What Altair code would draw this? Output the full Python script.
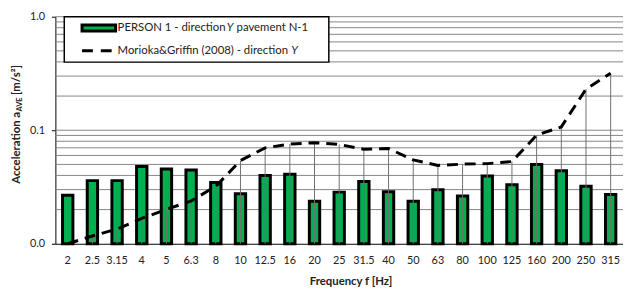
import altair as alt
import pandas as pd

freqs = ["2", "2.5", "3.15", "4", "5", "6.3", "8", "10", "12.5", "16", "20", "25",
         "31.5", "40", "50", "63", "80", "100", "125", "160", "200", "250", "315"]
person = [0.0267, 0.036, 0.036, 0.048, 0.0455, 0.0446, 0.0346, 0.0276, 0.040, 0.0409,
          0.0237, 0.0285, 0.0353, 0.0287, 0.0237, 0.0299, 0.0263, 0.0396, 0.0331,
          0.050, 0.044, 0.0321, 0.0272]
morioka = [0.0100, 0.0117, 0.0135, 0.0167, 0.0201, 0.0238, 0.0321, 0.054, 0.070, 0.0755,
           0.0776, 0.0750, 0.068, 0.069, 0.0548, 0.049, 0.0503, 0.0508, 0.053, 0.0905,
           0.107, 0.230, 0.318]
grid_values = [0.02, 0.03, 0.04, 0.05, 0.06, 0.07, 0.08, 0.09, 0.1,
               0.2, 0.3, 0.4, 0.5, 0.6, 0.7, 0.8, 0.9, 1.0]
y_label_values = [0.01, 0.1, 1.0]

legend_label_1 = ["PERSON 1 - direction", "Y", "pavement N-1"]
legend_label_2 = ["Morioka&Griffin (2008) - direction", "Y"]
y_title_parts = ["Acceleration a", "AVE", "[m/s\u00b2]"]
x_title = "Frequency f [Hz]"

FONT = "Lato"
GREEN = "#00B050"

df = pd.DataFrame({"f": freqs, "person": person, "morioka": morioka})
gdf = pd.DataFrame({"g": grid_values})

yscale = alt.Scale(type="log", domain=[0.01, 1.0], nice=False)
xscale = alt.Scale(type="band", paddingInner=0, paddingOuter=0)

y_axis = alt.Axis(values=y_label_values, format=".1f", grid=False, title=None,
                  tickSize=4, tickColor="#000", labelPadding=7, domainColor="#000",
                  labelFont=FONT, labelFontSize=11, labelColor="#222")
x_axis = alt.Axis(title=x_title, labelAngle=0, ticks=False, tickSize=0,
                  labelPadding=16.7, labelBaseline="middle", labelFont=FONT,
                  labelFontSize=11, labelColor="#222", domainColor="#000",
                  titleFont=FONT, titleFontSize=11.5, titleFontWeight="bold",
                  titleColor="#222", titleX=299, titleY=38, titleBaseline="middle",
                  titleAlign="center", titleAngle=0)

X = alt.X("f:N", sort=freqs, scale=xscale, axis=x_axis)

grid = alt.Chart(gdf).mark_rule(color="#858585", strokeWidth=1).encode(
    y=alt.Y("g:Q", scale=yscale, axis=y_axis)
)

bars = alt.Chart(df).mark_bar(width=10.5, color=GREEN, stroke="#000", strokeWidth=3).encode(
    x=X,
    y=alt.Y("person:Q", scale=yscale, axis=y_axis),
    y2=alt.datum(0.01),
)

drops = alt.Chart(df).mark_rule(color="#707070", strokeWidth=1).encode(
    x=X,
    y=alt.Y("morioka:Q", scale=yscale, axis=y_axis),
    y2=alt.datum(0.01),
)

line = alt.Chart(df).mark_line(color="#000", strokeWidth=3, strokeDash=[11, 7]).encode(
    x=X,
    y=alt.Y("morioka:Q", scale=yscale, axis=y_axis),
)

one = pd.DataFrame({"k": [0]})

legend_box = alt.Chart(one).mark_rect(fill="white", stroke="#000", strokeWidth=1.5).encode(
    x=alt.value(9), x2=alt.value(277), y=alt.value(0), y2=alt.value(46)
)
sym1 = alt.Chart(one).mark_rect(fill=GREEN, stroke="#000", strokeWidth=3).encode(
    x=alt.value(27), x2=alt.value(61), y=alt.value(8.5), y2=alt.value(14.5)
)
sym2 = alt.Chart(one).mark_rule(color="#000", strokeWidth=3, strokeDash=[11, 8]).encode(
    x=alt.value(27), x2=alt.value(58), y=alt.value(34.5)
)


def txt(s, x, y, style="normal", size=11.5, weight="normal", angle=0, align="left", color="#222"):
    d = pd.DataFrame({"t": [s]})
    kw = dict(font=FONT, fontSize=size, fontStyle=style, fontWeight=weight,
              align=align, baseline="middle", color=color)
    if angle:
        kw["angle"] = angle
    return alt.Chart(d).mark_text(**kw).encode(
        text="t:N", x=alt.value(x), y=alt.value(y)
    )


texts = [
    txt(legend_label_1[0], 63, 11.5),
    txt(legend_label_1[1], 173.5, 11.5, style="italic"),
    txt(legend_label_1[2], 183.5, 11.5),
    txt(legend_label_2[0], 63, 34.5),
    txt(legend_label_2[1], 239, 34.5, style="italic"),
    txt(y_title_parts[0], -39, 169.3, weight="bold", angle=270),
    txt(y_title_parts[1], -35.5, 96.0, weight="bold", size=7.5, angle=270),
    txt(y_title_parts[2], -39, 79.2, weight="bold", angle=270),
]

chart = alt.layer(grid, bars, drops, line, legend_box, sym1, sym2, *texts).properties(
    width=575, height=230,
    autosize=alt.AutoSizeParams(type="none"),
    padding={"left": 48, "top": 7, "right": 0, "bottom": 44},
).configure_view(stroke=None)

chart.save("out.html", embed_options={"renderer": "svg", "actions": False})
